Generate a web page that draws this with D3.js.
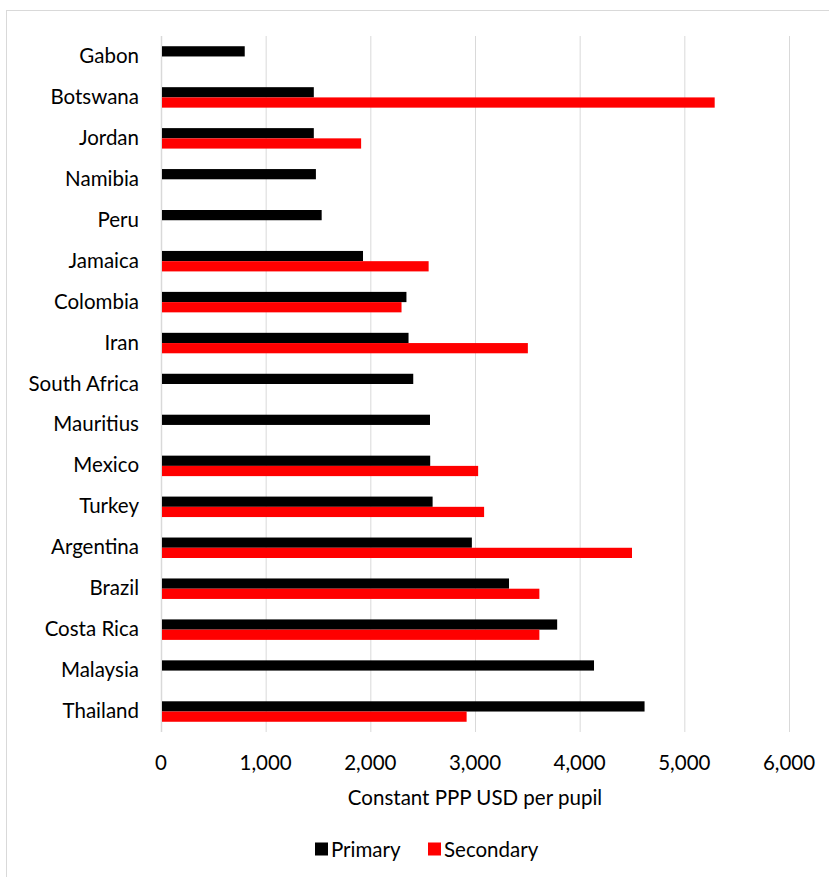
<!DOCTYPE html>
<html>
<head>
<meta charset="utf-8">
<script src="https://cdn.jsdelivr.net/npm/d3@7"></script>
<style>
  html, body { margin: 0; padding: 0; background: #fff; }
  svg text { font-family: Lato, "Open Sans", sans-serif; fill: #000; }
</style>
</head>
<body>
<svg id="chart" width="829" height="877"></svg>
<script>
// Spending per pupil by level of schooling
const countries = ["Gabon", "Botswana", "Jordan", "Namibia", "Peru", "Jamaica", "Colombia", "Iran",
  "South Africa", "Mauritius", "Mexico", "Turkey", "Argentina", "Brazil", "Costa Rica", "Malaysia", "Thailand"];
const primary = [800, 1460, 1460, 1480, 1535, 1930, 2345, 2365, 2410, 2570, 2572, 2595, 2970, 3325, 3785, 4137, 4620];
const secondary = [null, 5290, 1912, null, null, 2557, 2298, 3505, null, null, 3030, 3087, 4500, 3615, 3615, null, 2920];
const xTicks = [0, 1000, 2000, 3000, 4000, 5000, 6000];
const seriesNames = ["Primary", "Secondary"];
const seriesColors = ["#000000", "#ff0000"];
const axisTitle = "Constant PPP USD per pupil";

const svg = d3.select("#chart");
const FS = 20.5;

// outer chart frame
svg.append("rect")
  .attr("x", 6.5).attr("y", 10.5)
  .attr("width", 840).attr("height", 900)
  .attr("fill", "none").attr("stroke", "#d9d9d9").attr("stroke-width", 1);

const plot = { left: 161, right: 789, top: 36, bottom: 732 };

const x = d3.scaleLinear().domain([0, 6000]).range([plot.left, plot.right]);
const y = d3.scaleBand().domain(countries).range([plot.top, plot.bottom]).paddingInner(0.5).paddingOuter(0.25);
const ySub = d3.scaleBand().domain(seriesNames).range([0, y.bandwidth()]);

// vertical gridlines
svg.append("g")
  .selectAll("line")
  .data(xTicks)
  .join("line")
  .attr("x1", d => x(d) + 0.5).attr("x2", d => x(d) + 0.5)
  .attr("y1", plot.top).attr("y2", plot.bottom)
  .attr("stroke", "#d9d9d9")
  .attr("stroke-width", d => d === 0 ? 1.5 : 1);

// bars
const rows = countries.map((c, i) => ({ c, vals: [primary[i], secondary[i]] }));
const groups = svg.append("g").selectAll("g")
  .data(rows)
  .join("g")
  .attr("transform", d => `translate(0,${y(d.c)})`);

groups.selectAll("rect")
  .data(d => d.vals.map((v, k) => ({ v, k })).filter(e => e.v != null))
  .join("rect")
  .attr("x", x(0) + 1)
  .attr("y", e => ySub(seriesNames[e.k]))
  .attr("width", e => x(e.v) - x(0) - 1)
  .attr("height", ySub.bandwidth())
  .attr("fill", e => seriesColors[e.k]);

// category labels
svg.append("g").selectAll("text")
  .data(countries)
  .join("text")
  .attr("x", 139)
  .attr("y", d => y(d) + y.bandwidth() / 2 - 1.5)
  .attr("text-anchor", "end")
  .attr("dominant-baseline", "central")
  .attr("font-size", FS)
  .text(d => d);

// x tick labels
const fmt = d3.format(",");
svg.append("g").selectAll("text")
  .data(xTicks)
  .join("text")
  .attr("x", d => x(d))
  .attr("y", 762)
  .attr("text-anchor", "middle")
  .attr("dominant-baseline", "central")
  .attr("font-size", FS)
  .text(d => fmt(d));

// axis title
svg.append("text")
  .attr("x", 475).attr("y", 797)
  .attr("text-anchor", "middle")
  .attr("dominant-baseline", "central")
  .attr("font-size", FS)
  .text(axisTitle);

// legend
const legendItems = [
  { name: seriesNames[0], color: seriesColors[0], x: 315 },
  { name: seriesNames[1], color: seriesColors[1], x: 428 }
];
const lg = svg.append("g").selectAll("g")
  .data(legendItems)
  .join("g")
  .attr("transform", d => `translate(${d.x},849)`);
lg.append("rect")
  .attr("x", 0).attr("y", -6.5)
  .attr("width", 13).attr("height", 13)
  .attr("fill", d => d.color);
lg.append("text")
  .attr("x", 16).attr("y", 0)
  .attr("dominant-baseline", "central")
  .attr("font-size", FS)
  .text(d => d.name);
</script>
</body>
</html>
